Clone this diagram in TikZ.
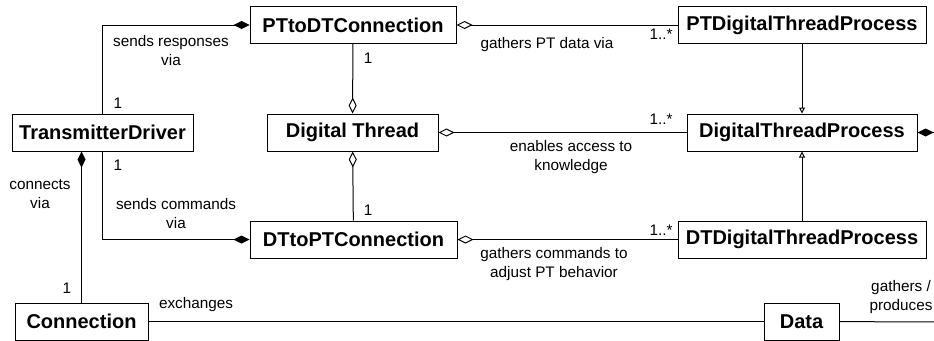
\documentclass[tikz,border=0pt]{standalone}
\usepackage{fontspec}
\setmainfont{Liberation Sans}
\usetikzlibrary{arrows.meta}

\begin{document}
\begin{tikzpicture}[x=1pt,y=-1pt,line width=1pt,
  cls/.style={draw,fill=white,minimum height=37,inner sep=0pt,font=\fontsize{20}{24}\selectfont\bfseries},
  lbl/.style={inner sep=0pt,align=center,font=\fontsize{15.3}{19}\selectfont},
  comp/.style={-{Diamond[fill=black,length=16pt,width=8pt]}},
  agg/.style={-{Diamond[open,length=16pt,width=8pt]}},
  gen/.style={-{Triangle[open,length=6pt,width=6pt]}}]
\clip (0,0) rectangle (934,340);

% classes
\node[cls,minimum width=181] (td)   at (102.5,132.5) {TransmitterDriver};
\node[cls,minimum width=206] (ptdt) at (353,25)      {PTtoDTConnection};
\node[cls,minimum width=171] (dt)   at (352.5,132.5) {Digital Thread};
\node[cls,minimum width=207] (dtpt) at (353.5,239.5) {DTtoPTConnection};
\node[cls,minimum width=248] (ptp)  at (802,25)      {PTDigitalThreadProcess};
\node[cls,minimum width=230] (dtp)  at (802,132.5)   {DigitalThreadProcess};
\node[cls,minimum width=248] (dtdp) at (802,239.5)   {DTDigitalThreadProcess};
\node[cls,minimum width=133] (conn) at (81.5,321.5)  {Connection};
\node[cls,minimum width=75]  (data) at (801.5,321.5) {Data};
\coordinate (dtpout)  at (950,132.5);
\coordinate (dataout) at (950,322);

% associations
\draw[comp] (td.north) |- (ptdt.west);
\draw[comp] (td.south) |- (dtpt.west);
\draw[comp] (conn.north) -- (conn.north |- td.south);
\draw[agg] (ptdt) -- (dt);
\draw[agg] (dtpt) -- (dt);
\draw[agg] (ptp) -- (ptdt);
\draw[agg] (dtp) -- (dt);
\draw[agg] (dtdp) -- (dtpt);
\draw[gen] (ptp) -- (dtp);
\draw[gen] (dtdp) -- (dtp);
\draw[comp] (dtpout) -- (dtp);
\draw (conn) -- (data);
\draw (data) -- (dataout);

% role names and multiplicities
\node[lbl] (l1) at (171,50.5) {sends responses\\via};
\node[lbl] (l2) at (176,214)  {sends commands\\via};
\node[lbl] (l3) at (40,194)   {connects\\via};
\node[lbl] (l4) at (196,305)  {exchanges};
\node[lbl] (l5) at (547,45)   {gathers PT data via};
\node[lbl] (l6) at (571,157)  {enables access to\\knowledge};
\node[lbl] (l7) at (554,264)  {gathers commands to\\adjust PT behavior};
\node[lbl] (l8) at (901,297.5) {gathers /\\produces};
\node[lbl] (m1) at (118,103)  {1};
\node[lbl] (m2) at (118,165)  {1};
\node[lbl] (m3) at (67,288)   {1};
\node[lbl] (m4) at (368,58)   {1};
\node[lbl] (m5) at (368,210)  {1};
\node[lbl] (m6) at (661,34)   {1..*};
\node[lbl] (m7) at (661,119)  {1..*};
\node[lbl] (m8) at (661,230)  {1..*};
\end{tikzpicture}
\end{document}
